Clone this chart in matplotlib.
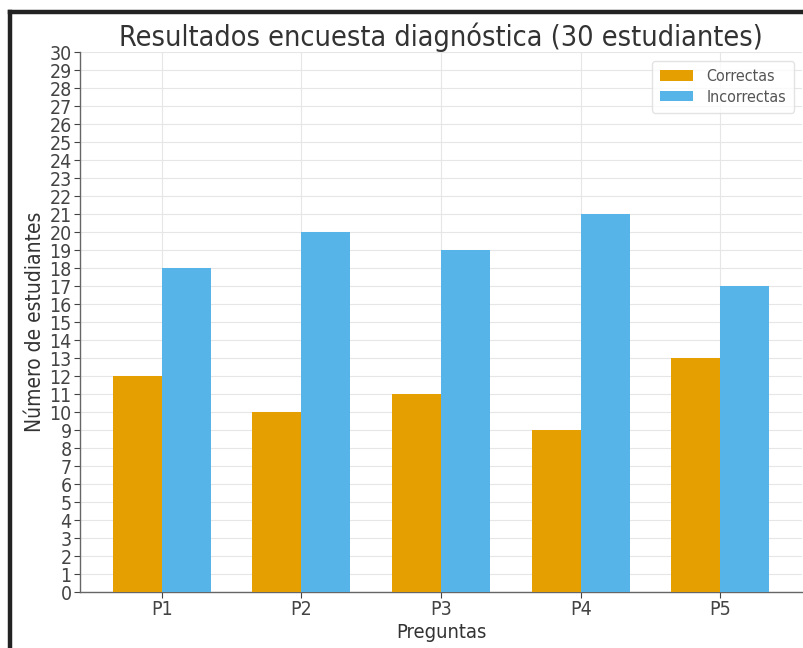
import numpy as np
import matplotlib
matplotlib.use("Agg")
from matplotlib import pyplot
from matplotlib.lines import Line2D

preguntas = ["P1", "P2", "P3", "P4", "P5"]
correctas = [12, 10, 11, 9, 13]
incorrectas = [18, 20, 19, 21, 17]

pyplot.rcParams["font.family"] = ["DejaVu Sans"]
pyplot.rcParams["font.stretch"] = "condensed"

fig = pyplot.figure(figsize=(8.04, 6.48), dpi=100)
ax = fig.add_axes([80 / 804, 56 / 648, 722 / 804, 540 / 648])

x = np.arange(len(preguntas))
width = 0.35
ax.bar(x - width / 2, correctas, width, color="#E69F00", label="Correctas", zorder=3)
ax.bar(x + width / 2, incorrectas, width, color="#56B4E9", label="Incorrectas", zorder=3)

ax.set_ylim(0, 30)
ax.set_yticks(range(0, 31))
ax.set_xticks(x)
ax.set_xticklabels(preguntas)
ax.tick_params(axis="both", labelsize=14, colors="#444444", length=4, width=0.8)
ax.tick_params(axis="x", pad=2)
ax.tick_params(axis="y", pad=2)
ax.grid(True, color="#e6e6e6", linewidth=0.8, zorder=0)
for side in ("top", "right"):
    ax.spines[side].set_visible(False)
for side in ("left", "bottom"):
    ax.spines[side].set_color("#666666")
    ax.spines[side].set_linewidth(1.0)

ax.set_title("Resultados encuesta diagnóstica (30 estudiantes)", fontsize=20.6,
             color="#333333", pad=3)
ax.set_xlabel("Preguntas", fontsize=14.5, color="#333333", labelpad=3)
ax.set_ylabel("Número de estudiantes", fontsize=15, color="#333333", labelpad=3)

leg = ax.legend(loc="upper right", fontsize=11.5, frameon=True, handlelength=2.1,
                handleheight=0.65, borderpad=0.5, labelspacing=0.35,
                bbox_to_anchor=(1.0, 0.998))
leg.get_frame().set_edgecolor("#dddddd")
for t in leg.get_texts():
    t.set_color("#555555")

# dark screenshot frame on the left and top
fig.add_artist(Line2D([10 / 804, 10 / 804], [0, 1 - 12 / 648], color="#222222",
                      linewidth=3.2, transform=fig.transFigure))
fig.add_artist(Line2D([10 / 804, 1], [1 - 12 / 648, 1 - 12 / 648], color="#222222",
                      linewidth=3.2, transform=fig.transFigure))

fig.savefig("out.png", dpi=100)
